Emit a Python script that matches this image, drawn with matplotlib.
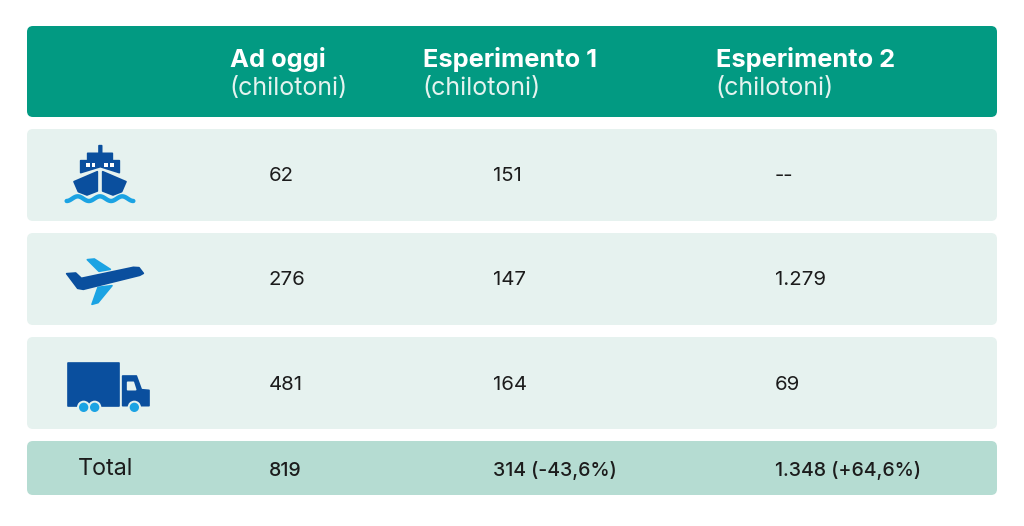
import numpy as np
import matplotlib
matplotlib.use("Agg")
import matplotlib.pyplot as plt
from matplotlib.patches import FancyBboxPatch, Polygon, Circle, Rectangle

plt.rcParams['font.family'] = ['Inter', 'DejaVu Sans']

# table content
headers = ["Ad oggi", "Esperimento 1", "Esperimento 2"]
unit = "(chilotoni)"
col_ad_oggi = ["62", "276", "481"]
col_esp1 = ["151", "147", "164"]
col_esp2 = ["--", "1.279", "69"]
total_label = "Total"
totals = ["819", "314 (-43,6%)", "1.348 (+64,6%)"]

GREEN = "#029a82"
LIGHT = "#e6f2ef"
TOTAL = "#b5dcd2"
NAVY = "#0a4f9e"
SKY = "#1ba3e3"
TEXT = "#1c1c1c"

fig = plt.figure(figsize=(10.24, 5.26), dpi=100)
ax = fig.add_axes([0, 0, 1, 1])
ax.set_xlim(0, 1024)
ax.set_ylim(526, 0)
ax.axis('off')


def band(y0, y1, color):
    ax.add_patch(FancyBboxPatch((32, y0 + 5), 960, y1 - y0 - 10, boxstyle="round,pad=5,rounding_size=6",
                                fc=color, ec='none'))


band(26, 117, GREEN)
band(129, 221, LIGHT)
band(233, 325, LIGHT)
band(337, 429, LIGHT)
band(441, 495, TOTAL)

# header
head_x = [230, 423, 716]
for x, h in zip(head_x, headers):
    ax.text(x, 60, h, color='white', fontsize=18.3, fontweight='bold', va='center', ha='left')
    ax.text(x - 1, 88, unit, color='#e4f3ef', fontsize=18, va='center', ha='left')

# body
row_y = [176, 280, 385]
for y, a, b, c in zip(row_y, col_ad_oggi, col_esp1, col_esp2):
    ax.text(269, y, a, color=TEXT, fontsize=14.7, va='center', ha='left')
    ax.text(493, y, b, color=TEXT, fontsize=14.7, va='center', ha='left')
    ax.text(775, y, c, color=TEXT, fontsize=14.7, va='center', ha='left')

ax.text(78, 469, total_label, color=TEXT, fontsize=16.8, va='center', ha='left')
ax.text(269, 471, totals[0], color=TEXT, fontsize=14, fontweight='medium', va='center', ha='left')
ax.text(493, 471, totals[1], color=TEXT, fontsize=14, fontweight='medium', va='center', ha='left')
ax.text(775, 471, totals[2], color=TEXT, fontsize=14, fontweight='medium', va='center', ha='left')


def poly(pts, ox, oy, color):
    pts = [(ox + p[0] / 3, oy + p[1] / 3) for p in pts]
    ax.add_patch(Polygon(pts, closed=True, fc=color, ec=color, lw=1.2, joinstyle='round'))


# ship
ox, oy = 40, 130
poly([(177, 47), (185, 47), (185, 70), (217, 70), (217, 92), (238, 92), (238, 128), (181, 110),
      (122, 128), (122, 92), (143, 92), (143, 70), (177, 70)], ox, oy, NAVY)
for wx in [143, 160, 197, 216]:
    ax.add_patch(Rectangle((ox + (wx - 5) / 3, oy + 100 / 3), 11 / 3, 12 / 3, fc='white', ec='none', zorder=3))
poly([(102, 155), (172, 125), (172, 183), (141, 195), (115, 185)], ox, oy, NAVY)
poly([(188, 125), (258, 155), (245, 185), (219, 195), (188, 183)], ox, oy, NAVY)
wave_x = np.linspace(80, 280, 80)
wave_y = 206 + 7 * np.cos((wave_x - 80) / 200 * 2 * np.pi * 3)
ax.plot(ox + wave_x / 3, oy + wave_y / 3, color=SKY, lw=3.2, solid_capstyle='round')

# plane
ox, oy = 40, 240
poly([(142, 59), (163, 57), (211, 88), (177, 94)], ox, oy, SKY)
poly([(174, 142), (216, 137), (174, 188), (156, 193)], ox, oy, SKY)
poly([(80, 101), (107, 99), (124, 115), (280, 82), (297, 83), (310, 100), (299, 106), (130, 148),
      (113, 145)], ox, oy, NAVY)

# truck
ox, oy = 40, 345
poly([(85, 53), (236, 53), (236, 182), (85, 182)], ox, oy, NAVY)
poly([(248, 93), (289, 93), (304, 134), (327, 136), (327, 182), (248, 182)], ox, oy, NAVY)
poly([(263, 112), (280, 112), (287, 134), (263, 134)], ox, oy, LIGHT)
for wx in [131, 164, 283]:
    ax.add_patch(Circle((ox + wx / 3, oy + 187 / 3), 20 / 3, fc=LIGHT, ec='none', zorder=3))
    ax.add_patch(Circle((ox + wx / 3, oy + 187 / 3), 14 / 3, fc=SKY, ec='none', zorder=4))

fig.savefig("out.png", dpi=100)
